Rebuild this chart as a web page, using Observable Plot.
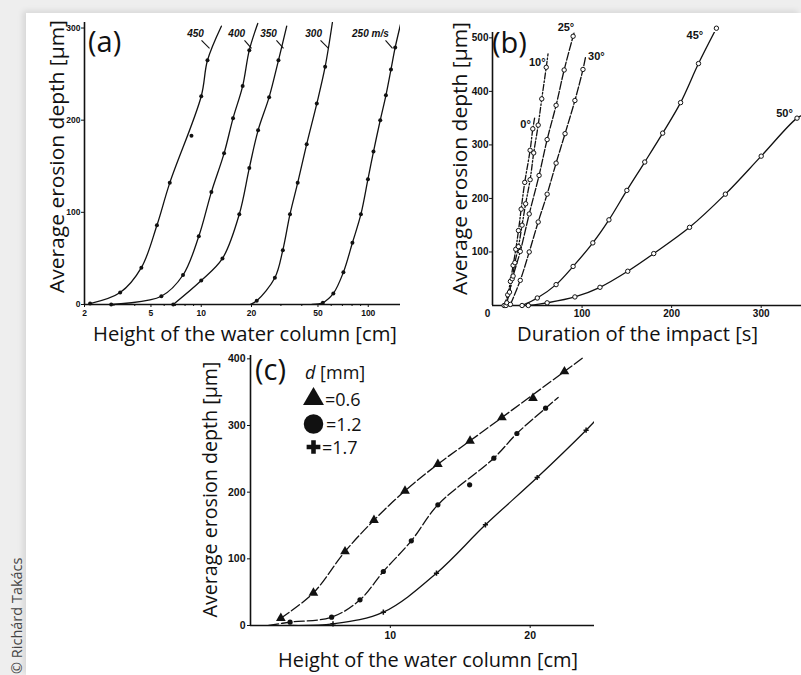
<!DOCTYPE html>
<html><head><meta charset="utf-8">
<script src="https://cdn.jsdelivr.net/npm/d3@7"></script>
<script src="https://cdn.jsdelivr.net/npm/@observablehq/plot@0.6"></script>
<style>
html,body{margin:0;padding:0;background:#eeeeee;}
#root{position:relative;width:801px;height:675px;overflow:hidden;background:#eeeeee;}
#paper{position:absolute;left:26px;top:13px;right:0;bottom:0;background:#fff;box-shadow:-3px -2px 6px rgba(0,0,0,0.10);}
#root svg{position:absolute;left:0;top:0;}
</style></head><body><div id="root"><div id="paper"></div></div>
<script>
// ---------- Panel (a): depth vs water column height (log x), by impact speed ----------
const aSpeeds = ["450", "400", "350", "300", "250 m/s"];
const aH = [
  [2.16, 3.27, 4.38, 5.43, 6.48, 8.74, 10.0, 10.9],
  [2.89, 5.77, 7.78, 9.67, 11.5, 13.7, 15.5, 17.7, 19.4],
  [6.8, 10.0, 13.4, 16.9, 19.4, 21.9, 25.5, 29.0],
  [21.5, 27.6, 30.8, 34.0, 37.8, 42.8, 49.2, 55.2],
  [53.5, 61.8, 71.0, 80.4, 90.4, 99.6, 107.5, 118, 127.6, 136.8, 145]
];
const aD = [
  [1, 13, 40, 86, 132, 183, 226, 265],
  [0, 9, 32, 74, 122, 164, 202, 237, 276],
  [0, 26, 50, 98, 148, 189, 225, 265],
  [4, 29, 59, 98, 132, 174, 218, 258],
  [2, 12, 35, 67, 98, 136, 166, 200, 227, 255, 279]
];
// measured points that the drawn fit curve visibly misses: [series, point]
const aOffCurve = [[0, 5]];
const aStartH = [null, null, null, 19.6, 46];
const aStartD = [null, null, null, 0, 0];
const aEndH = [13.2, 21.8, 32.5, 61, 160];
const aEndD = [302, 305, 302, 306, 312];
const aLabelH = [9.24, 16.3, 25.3, 47.1, 103];
const aLabelD = [294, 294, 294, 294, 294];
const aLeadH1 = [10.04, 18.16, 28.2, 51.8, 126.9];
const aLeadH2 = [11.21, 20.0, 31.1, 57.8, 139.7];
const aLeadD1 = 286.6, aLeadD2 = 278;
const aXTicks = [2, 5, 10, 20, 50, 100];
const aXMinor = [3, 4, 6, 7, 8, 9, 30, 40, 60, 70, 80, 90];
const aYTicks = [0, 100, 200, 300];

// ---------- Panel (b): depth vs duration of impact, by angle ----------
const bAngles = ["0°", "10°", "25°", "30°", "45°", "50°"];
const bT = [
  [13, 17, 20, 23, 26, 29, 32, 36, 42, 45],
  [15, 19, 22, 25, 29, 33, 37, 42, 46, 51, 55, 60],
  [16, 23, 31, 41, 52, 61, 71, 80, 90],
  [20, 31, 41, 51, 61, 71, 81, 92, 101],
  [33, 50, 71, 90, 112, 130, 150, 170, 190, 210, 230, 250],
  [40, 61, 92, 120, 151, 180, 220, 260, 300, 340]
];
const bD = [
  [0, 20, 45, 75, 105, 140, 180, 230, 290, 330],
  [0, 25, 50, 80, 110, 150, 190, 235, 285, 337, 386, 445],
  [5, 55, 101, 171, 243, 310, 374, 440, 503],
  [2, 47, 100, 156, 208, 266, 321, 383, 441],
  [0, 14, 39, 73, 117, 160, 215, 268, 322, 379, 452, 518],
  [0, 5, 16, 34, 64, 97, 146, 208, 279, 350]
];
const bEndT = [47, 62, 91.5, 104, null, 350];
const bEndD = [350, 470, 512, 465, null, 358];
const bLabelT = [37, 50, 82, 116, 226, 326];
const bLabelD = [338, 454, 520, 465, 505, 359];
const bDash = ["6,2,1.5,2", "6,2,1.5,2", "8,2", "8,2", null, null];
const bXTicks = [100, 200, 300];
const bXOrigin = [0];
const bYTicks = [100, 200, 300, 400, 500];

// ---------- Panel (c): depth vs water column height, by droplet diameter ----------
const cSizes = ["0.6", "1.2", "1.7"];
const cSymbols = ["triangle", "circle", "plus"];
const cH = [
  [2.17, 4.5, 6.76, 8.83, 11.05, 13.4, 15.7, 17.98, 20.2, 22.45],
  [2.83, 5.8, 7.83, 9.5, 11.5, 13.4, 15.67, 17.4, 19.05, 21.1],
  [5.9, 9.5, 13.3, 16.8, 20.5, 24.0]
];
const cD = [
  [11, 49, 111, 158, 202, 242, 277, 312, 341, 381],
  [5, 12.5, 38.5, 81, 127, 181, 211, 251, 288, 326],
  [2.5, 20, 78.5, 151, 222, 293]
];
const cOffCurve = [[0, 8], [1, 6]];
const cStartH = [null, 1.3, 3.0];
const cStartD = [null, 0, 0];
const cEndH = [23.8, 22.0, 24.6];
const cEndD = [402, 342, 306];
const cDash = ["10,3", "10,3", null];
const cXTicks = [10, 20];
const cYTicks = [0, 100, 200, 300, 400];

// ---------- helpers ----------
const W = 801, H = 675;
const INK = "#111";
const TICKFONT = "'Liberation Sans', Arial, sans-serif";
const FONT = "'Open Sans', 'Noto Sans', sans-serif";
const root = document.getElementById("root");

function rows(name, xs, ys) { return xs.map((x, j) => ({s: name, x, y: ys[j]})); }
function lineRows(i, name, xs, ys, sx, sy, ex, ey, off) {
  const r = [];
  if (sx != null) r.push({s: name, x: sx, y: sy});
  xs.forEach((x, j) => { if (!off.some(([a, b]) => a === i && b === j)) r.push({s: name, x, y: ys[j]}); });
  if (ex != null) r.push({s: name, x: ex, y: ey});
  return r;
}
const baseStyle = "background:transparent;overflow:visible;font-family:" + TICKFONT + ";color:" + INK + ";";

// ---------- Plot (a) ----------
const aLines = aSpeeds.flatMap((s, i) => lineRows(i, s, aH[i], aD[i], aStartH[i], aStartD[i], aEndH[i], aEndD[i], aOffCurve));
const aDots = aSpeeds.flatMap((s, i) => rows(s, aH[i], aD[i]));
const aLabels = aSpeeds.map((s, i) => ({s, x: aLabelH[i], y: aLabelD[i]}));
const aLeads = aSpeeds.map((s, i) => ({x1: aLeadH1[i], x2: aLeadH2[i], y1: aLeadD1, y2: aLeadD2}));

const plotA = Plot.plot({
  width: W, height: H,
  marginLeft: 84, marginRight: W - 400, marginTop: 22, marginBottom: H - 304,
  x: {type: "log", domain: [2, 156]},
  y: {domain: [0, 306]},
  style: baseStyle,
  marks: [
    Plot.ruleY([0], {stroke: INK, strokeWidth: 1.4}),
    Plot.ruleX([2], {stroke: INK, strokeWidth: 1.6}),
    Plot.axisX({ticks: aXTicks, tickFormat: d => d, tickSize: 3, tickPadding: 2, fontSize: 8.5, fontWeight: "bold", label: null}),
    Plot.axisX({ticks: aXMinor, tickFormat: () => "", tickSize: 2, label: null}),
    Plot.axisY({ticks: aYTicks, tickFormat: d => d, tickSize: 3, tickPadding: 1, fontSize: 8.5, fontWeight: "bold", label: null}),
    Plot.line(aLines, {x: "x", y: "y", z: "s", stroke: INK, strokeWidth: 1.3, curve: "catmull-rom", clip: true}),
    Plot.dot(aDots, {x: "x", y: "y", r: 2, fill: INK, stroke: "none"}),
    Plot.link(aLeads, {x1: "x1", y1: "y1", x2: "x2", y2: "y2", stroke: INK, strokeWidth: 1.1}),
    Plot.text(aLabels, {x: "x", y: "y", text: "s", fontSize: 10, fontWeight: "bold", fontStyle: "italic", fill: INK})
  ]
});

// ---------- Plot (b) ----------
const bDots = bAngles.flatMap((s, i) => rows(s, bT[i], bD[i]));
const bLabels = bAngles.map((s, i) => ({s, x: bLabelT[i], y: bLabelD[i]}));
const bLineMarks = bAngles.map((s, i) =>
  Plot.line(lineRows(i, s, bT[i], bD[i], null, null, bEndT[i], bEndD[i], []),
    {x: "x", y: "y", stroke: INK, strokeWidth: 1.3, curve: "catmull-rom", clip: true,
     strokeDasharray: bDash[i] || undefined}));

const plotB = Plot.plot({
  width: W, height: H,
  marginLeft: 492, marginRight: 0, marginTop: 32, marginBottom: H - 305,
  x: {domain: [0, 345]},
  y: {domain: [0, 510]},
  style: baseStyle,
  marks: [
    Plot.ruleY([0], {stroke: INK, strokeWidth: 1.4}),
    Plot.ruleX([0], {stroke: INK, strokeWidth: 1.6}),
    Plot.axisX({ticks: bXTicks, tickFormat: d => d, tickSize: 3, tickPadding: 1, fontSize: 10, fontWeight: "bold", label: null}),
    Plot.axisX({ticks: bXOrigin, tickFormat: d => d, tickSize: 0, tickPadding: 4, dx: -5, fontSize: 10, fontWeight: "bold", label: null}),
    Plot.axisY({ticks: bYTicks, tickFormat: d => d, tickSize: 3, tickPadding: 1, fontSize: 10, fontWeight: "bold", label: null}),
    ...bLineMarks,
    Plot.dot(bDots, {x: "x", y: "y", r: 2.2, fill: "white", stroke: INK, strokeWidth: 1}),
    Plot.text(bLabels, {x: "x", y: "y", text: "s", fontSize: 11, fontWeight: "bold", fill: INK})
  ]
});

// ---------- Plot (c) ----------
const cLineMarks = cSizes.map((s, i) =>
  Plot.line(lineRows(i, s, cH[i], cD[i], cStartH[i], cStartD[i], cEndH[i], cEndD[i], cOffCurve),
    {x: "x", y: "y", stroke: INK, strokeWidth: 1.3, curve: "catmull-rom", clip: true,
     strokeDasharray: cDash[i] || undefined}));
const cDotMarks = cSizes.map((s, i) =>
  Plot.dot(rows(s, cH[i], cD[i]), {x: "x", y: "y", symbol: () => cSymbols[i],
    r: cSymbols[i] === "triangle" ? 3.6 : cSymbols[i] === "circle" ? 2.6 : 1.8,
    fill: cSymbols[i] === "plus" ? "none" : INK, stroke: cSymbols[i] === "plus" ? INK : "none", strokeWidth: 1.5}));

const plotC = Plot.plot({
  width: W, height: H,
  marginLeft: 250, marginRight: W - 594, marginTop: 355, marginBottom: H - 625,
  x: {domain: [0, 24.6]},
  y: {domain: [0, 405]},
  symbol: {domain: cSymbols, range: cSymbols},
  style: baseStyle,
  marks: [
    Plot.ruleY([0], {stroke: INK, strokeWidth: 1.4}),
    Plot.ruleX([0], {stroke: INK, strokeWidth: 1.6}),
    Plot.axisX({ticks: cXTicks, tickFormat: d => d, tickSize: 3, tickPadding: 3, fontSize: 10.5, fontWeight: "bold", label: null}),
    Plot.axisY({ticks: cYTicks, tickFormat: d => d, tickSize: 3, tickPadding: 2, fontSize: 10.5, fontWeight: "bold", label: null}),
    ...cLineMarks,
    ...cDotMarks
  ]
});

for (const p of [plotA, plotB, plotC]) { p.style.position = "absolute"; p.style.left = "0"; p.style.top = "0"; root.appendChild(p); }

// ---------- Overlay: titles, panel tags, legend, credit ----------
const ov = d3.create("svg").attr("width", W).attr("height", H)
  .style("position", "absolute").style("left", 0).style("top", 0).style("overflow", "visible");

function title(x, y, str, len, rot) {
  const t = ov.append("text").attr("font-family", FONT).attr("font-size", 20).attr("fill", INK)
    .attr("text-anchor", "middle").attr("textLength", len).attr("lengthAdjust", "spacingAndGlyphs").text(str);
  if (rot) t.attr("transform", `translate(${x},${y}) rotate(-90)`); else t.attr("x", x).attr("y", y);
}
title(64, 156.5, "Average erosion depth [μm]", 273, true);
title(467, 158.5, "Average erosion depth [μm]", 273, true);
title(217, 489.5, "Average erosion depth [μm]", 256, true);
title(245, 341, "Height of the water column [cm]", 304, false);
title(637.5, 341, "Duration of the impact [s]", 241, false);
title(428, 667, "Height of the water column [cm]", 300, false);

function tag(x, y, str) {
  ov.append("text").attr("x", x).attr("y", y).attr("font-family", FONT).attr("font-size", 29).attr("fill", INK).text(str);
}
tag(88, 52, "(a)");
tag(492, 53, "(b)");
tag(255, 380, "(c)");

// legend for panel (c)
const lg = ov.append("g").attr("font-family", FONT).attr("font-size", 18).attr("fill", INK);
const ttl = lg.append("text").attr("x", 305).attr("y", 379);
ttl.append("tspan").attr("font-style", "italic").text("d");
ttl.append("tspan").text(" [mm]");
const legendSym = [d3.symbolTriangle, d3.symbolCircle, d3.symbolCross];
const legendSize = [190, 300, 105];
const legendY = [399, 424, 447];
const legendX = [313.5, 313.5, 313.5];
const legendTextX = [325, 326, 322];
cSizes.forEach((s, i) => {
  lg.append("path").attr("d", d3.symbol(legendSym[i], legendSize[i])()).attr("fill", INK)
    .attr("transform", `translate(${legendX[i]},${legendY[i]})`);
  lg.append("text").attr("x", legendTextX[i]).attr("y", legendY[i] + 6.5).text("=" + s);
});

// credit
ov.append("text").attr("transform", "translate(22,674) rotate(-90)").attr("font-family", FONT)
  .attr("font-size", 14.5).attr("fill", "#444").text("© Richárd Takács");

root.appendChild(ov.node());
</script></body></html>
